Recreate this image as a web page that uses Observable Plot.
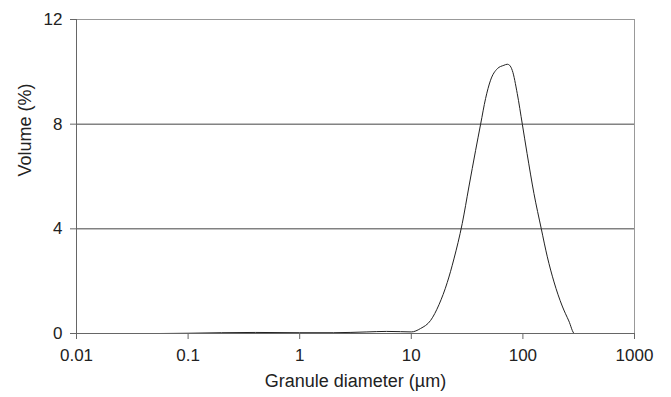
<!DOCTYPE html>
<html>
<head>
<meta charset="utf-8">
<script src="https://cdn.jsdelivr.net/npm/d3@7"></script>
<script src="https://cdn.jsdelivr.net/npm/@observablehq/plot@0.6"></script>
<style>
  html, body { margin: 0; padding: 0; background: #fff; }
</style>
</head>
<body>
<div id="chart"></div>
<script>
// Granule diameter (µm)
const diameter = [0.056, 0.1, 0.2, 0.4, 1, 2, 4, 6, 8, 10, 12.1, 14.9, 17.7, 21, 24.1, 28.6, 32.8, 37.7, 41.8, 46.3, 51.3, 59, 67.6, 72.5, 76, 80.4, 89, 98.8, 109, 125.6, 146, 165.5, 190, 225, 258, 290, 400, 600, 1000];
// Volume (%)
const volume = [0, 0.01, 0.03, 0.04, 0.03, 0.03, 0.06, 0.08, 0.07, 0.06, 0.19, 0.5, 1.1, 1.95, 2.85, 4.2, 5.6, 7.0, 8, 8.98, 9.68, 10.12, 10.25, 10.29, 10.25, 10.05, 9.17, 8, 6.88, 5.35, 4.01, 2.93, 1.97, 1.05, 0.48, 0, 0, 0, 0];

const xTicks = [0.01, 0.1, 1, 10, 100, 1000];
const xTickLabels = ["0.01", "0.1", "1", "10", "100", "1000"];
const yTicks = [0, 4, 8, 12];
const gridY = [4, 8];

const xLabel = "Granule diameter (µm)";
const yLabel = "Volume (%)";

const data = diameter.map((d, i) => ({x: d, y: volume[i]}));

const chart = Plot.plot({
  width: 671,
  height: 397,
  marginLeft: 76,
  marginRight: 37,
  marginTop: 19,
  marginBottom: 64,
  style: {fontFamily: "'Liberation Sans', Arial, sans-serif", fontSize: "17px", color: "#222", background: "#fff"},
  x: {type: "log", domain: [0.01, 1000]},
  y: {domain: [0, 12]},
  marks: [
    Plot.ruleY(gridY, {stroke: "#444", strokeWidth: 1}),
    Plot.ruleY([12], {stroke: "#999", strokeWidth: 1}),
    Plot.ruleX([1000], {stroke: "#999", strokeWidth: 1}),
    Plot.line(data, {x: "x", y: "y", curve: "monotone-x", stroke: "#222", strokeWidth: 1}),
    Plot.ruleX([0.01], {stroke: "#666", strokeWidth: 1}),
    Plot.ruleY([0], {stroke: "#666", strokeWidth: 1}),
    Plot.axisX({ticks: xTicks, tickFormat: (d) => xTickLabels[xTicks.indexOf(d)], tickSize: 6, tickPadding: 9, label: null, stroke: "#666", fill: "#222"}),
    Plot.axisY({ticks: yTicks, tickSize: 6, tickPadding: 8, label: null, stroke: "#666", fill: "#222"}),
    Plot.text([yLabel], {frameAnchor: "left", rotate: -90, dx: -51, fontSize: 18, fill: "#222"}),
    Plot.text([xLabel], {frameAnchor: "bottom", dy: 53, fontSize: 18, fill: "#222"})
  ]
});
document.getElementById("chart").appendChild(chart);
</script>
</body>
</html>
